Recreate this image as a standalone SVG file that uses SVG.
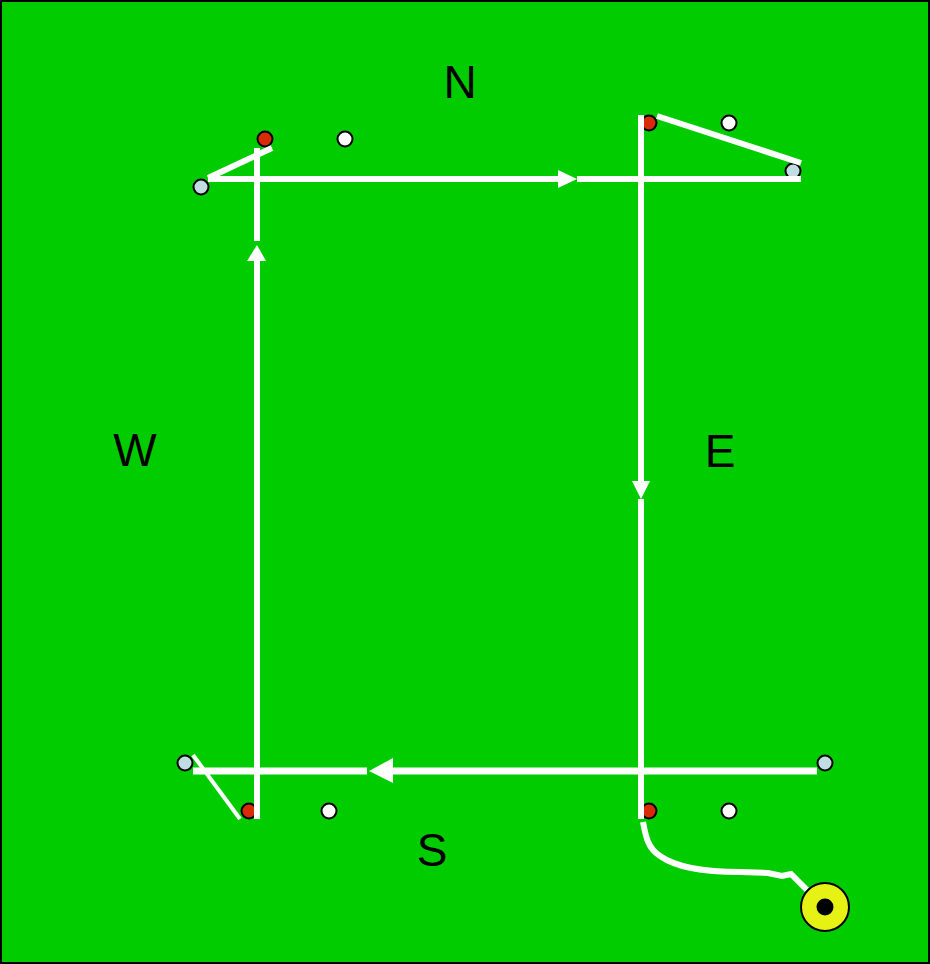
<svg xmlns="http://www.w3.org/2000/svg" width="930" height="964" viewBox="0 0 930 964">
<style>
.ln{stroke:#fff;stroke-width:6;fill:none}
.ah{fill:#fff}
.red{fill:#d92b08;stroke:#000;stroke-width:2}
.wht{fill:#fff;stroke:#000;stroke-width:2}
.blu{fill:#c1dde3;stroke:#000;stroke-width:2}
.lbl{font-family:"Liberation Sans",Arial,sans-serif;font-size:46px;fill:#000;text-anchor:middle}
</style>
<rect x="1" y="1" width="928" height="962" fill="#00cc00" stroke="#000" stroke-width="2"/>
<g id="labels">
<text class="lbl" x="460" y="98">N</text>
<text class="lbl" x="135" y="466">W</text>
<text class="lbl" x="720" y="467">E</text>
<text class="lbl" x="432" y="866">S</text>
</g>
<g id="cones">
<circle id="nw-blue" class="blu" cx="201" cy="187" r="7.5"/>
<circle id="nw-red" class="red" cx="265" cy="139" r="7.5"/>
<circle id="nw-white" class="wht" cx="345" cy="139" r="7.5"/>
<circle id="ne-red" class="red" cx="649" cy="123" r="7.5"/>
<circle id="ne-white" class="wht" cx="729" cy="123" r="7.5"/>
<circle id="ne-blue" class="blu" cx="793" cy="171" r="7.5"/>
<circle id="sw-blue" class="blu" cx="185" cy="763" r="7.5"/>
<circle id="sw-red" class="red" cx="249" cy="811" r="7.5"/>
<circle id="sw-white" class="wht" cx="329" cy="811" r="7.5"/>
<circle id="se-red" class="red" cx="649" cy="811" r="7.5"/>
<circle id="se-white" class="wht" cx="729" cy="811" r="7.5"/>
<circle id="se-blue" class="blu" cx="825" cy="763" r="7.5"/>
</g>
<g id="connectors">
<line class="ln" x1="208" y1="179" x2="558" y2="179"/>
<polygon class="ah" points="558,170 577,179 558,188"/>
<line class="ln" x1="577" y1="179" x2="801" y2="179"/>
<line class="ln" x1="208" y1="178" x2="272" y2="148"/>
<line class="ln" x1="657" y1="116" x2="801" y2="163"/>
<line class="ln" x1="641" y1="115" x2="641" y2="481"/>
<polygon class="ah" points="632,481 641,499 650,481"/>
<line class="ln" x1="641" y1="499" x2="641" y2="819"/>
<line class="ln" x1="817" y1="771" x2="393" y2="771" style="stroke-width:7"/>
<polygon class="ah" points="393,758 369,771 393,783"/>
<line class="ln" x1="367" y1="771" x2="193" y2="771" style="stroke-width:7"/>
<line class="ln" x1="193" y1="755" x2="240" y2="819" style="stroke-width:4"/>
<line class="ln" x1="257" y1="819" x2="257" y2="261"/>
<polygon class="ah" points="247,261 257,245 266,261"/>
<line class="ln" x1="257" y1="241" x2="257" y2="148"/>
<path class="ln" d="M643,822 C646,838 648,848 660,856 C676,867 700,872 740,872 L768,873 L782,876 L791,874 L807,890"/>
</g>
<g id="start">
<circle cx="825" cy="907" r="24" fill="#e6f214" stroke="#000" stroke-width="2"/>
<circle cx="825" cy="907" r="8.5" fill="#000"/>
</g>
</svg>
